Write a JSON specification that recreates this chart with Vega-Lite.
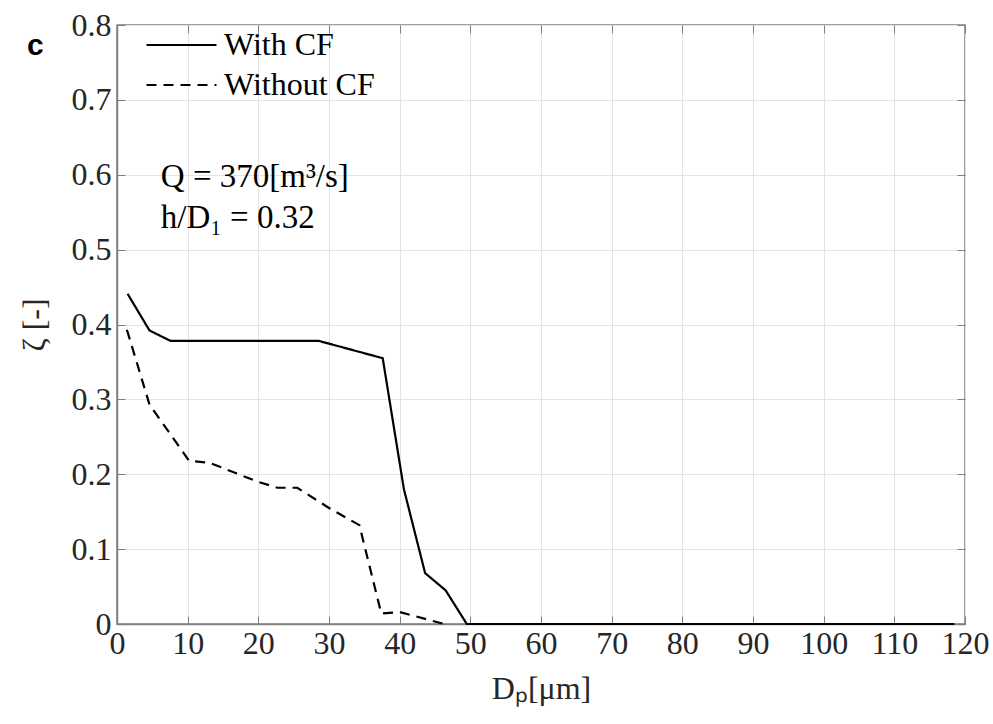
{
  "$schema": "https://vega.github.io/schema/vega-lite/v6.json",
  "width": 848,
  "height": 599,
  "autosize": {"type": "none"},
  "padding": {"left": 117, "top": 25, "right": 28, "bottom": 100},
  "background": "white",
  "title": {"text": "c", "anchor": "start", "frame": "group", "orient": "top", "dx": -90, "dy": 76, "fontSize": 30, "font": "Liberation Sans", "fontWeight": "bold", "color": "black", "baseline": "alphabetic", "offset": 0},
  "config": {
    "view": {"stroke": "#7f7f7f", "strokeWidth": 1.5},
    "axis": {
      "labelFont": "Liberation Serif", "labelFontSize": 32, "labelColor": "#262626",
      "titleFont": "Liberation Serif", "titleFontSize": 32, "titleColor": "#262626", "titleFontWeight": "normal",
      "domainColor": "#7f7f7f", "domainWidth": 1.5, "tickColor": "#7f7f7f", "tickSize": -8, "tickWidth": 1,
      "gridColor": "#e3e3e3", "gridWidth": 1
    }
  },
  "data": {"values": [
    {"D": 1.5, "z": 0.441, "series": "With CF"},
    {"D": 4.6, "z": 0.392, "series": "With CF"},
    {"D": 7.6, "z": 0.378, "series": "With CF"},
    {"D": 28.6, "z": 0.378, "series": "With CF"},
    {"D": 37.6, "z": 0.355, "series": "With CF"},
    {"D": 40.6, "z": 0.18, "series": "With CF"},
    {"D": 43.6, "z": 0.068, "series": "With CF"},
    {"D": 46.5, "z": 0.045, "series": "With CF"},
    {"D": 49.5, "z": 0.0, "series": "With CF"},
    {"D": 118.5, "z": 0.0, "series": "With CF"},
    {"D": 1.4, "z": 0.393, "series": "Without CF"},
    {"D": 4.6, "z": 0.293, "series": "Without CF"},
    {"D": 10.2, "z": 0.218, "series": "Without CF"},
    {"D": 13.2, "z": 0.215, "series": "Without CF"},
    {"D": 19.9, "z": 0.19, "series": "Without CF"},
    {"D": 22.7, "z": 0.182, "series": "Without CF"},
    {"D": 25.5, "z": 0.182, "series": "Without CF"},
    {"D": 30.0, "z": 0.155, "series": "Without CF"},
    {"D": 34.3, "z": 0.132, "series": "Without CF"},
    {"D": 37.4, "z": 0.014, "series": "Without CF"},
    {"D": 40.0, "z": 0.016, "series": "Without CF"},
    {"D": 46.3, "z": 0.0, "series": "Without CF"}
  ]},
  "layer": [
    {
      "mark": {"type": "line", "color": "black", "strokeWidth": 2.2, "clip": false},
      "encoding": {
        "x": {"field": "D", "type": "quantitative", "scale": {"domain": [0, 120], "nice": false},
          "axis": {"values": [0,10,20,30,40,50,60,70,80,90,100,110,120], "title": "Dₚ[μm]", "labelPadding": 12, "titlePadding": 14, "labelFlush": false}},
        "y": {"field": "z", "type": "quantitative", "scale": {"domain": [0, 0.8], "nice": false},
          "axis": {"values": [0,0.1,0.2,0.3,0.4,0.5,0.6,0.7,0.8], "title": "ζ [-]", "labelExpr": "datum.value == 0 ? '0' : format(datum.value, '.1f')", "labelPadding": 14, "titlePadding": 20, "labelFlush": false}},
        "strokeDash": {"field": "series", "type": "nominal",
          "scale": {"domain": ["With CF", "Without CF"], "range": [[1, 0], [10, 7]]},
          "legend": {"title": null, "orient": "none", "legendX": 28, "legendY": 0, "symbolType": "stroke", "symbolSize": 4900, "symbolStrokeWidth": 2.2, "symbolStrokeColor": "black", "labelFont": "Liberation Serif", "labelFontSize": 32, "labelColor": "black", "labelOffset": 6, "clipHeight": 40, "rowPadding": 0, "padding": 0}},
        "order": {"field": "series", "sort": "descending"}
      }
    },
    {
      "mark": {"type": "line", "opacity": 0},
      "encoding": {
        "x": {"field": "D", "type": "quantitative", "scale": {"domain": [0, 120], "nice": false},
          "axis": {"orient": "top", "values": [0,10,20,30,40,50,60,70,80,90,100,110,120], "labels": false, "title": null, "grid": false, "domain": false}},
        "y": {"field": "z", "type": "quantitative", "scale": {"domain": [0, 0.8], "nice": false},
          "axis": {"orient": "right", "values": [0,0.1,0.2,0.3,0.4,0.5,0.6,0.7,0.8], "labels": false, "title": null, "grid": false, "domain": false}},
        "detail": {"field": "series"}
      }
    },
    {
      "data": {"values": [{}]},
      "mark": {"type": "text", "text": ["Q = 370[m³/s]", "h/D₁ = 0.32"], "align": "left", "baseline": "alphabetic", "fontSize": 33, "lineHeight": 41, "font": "Liberation Serif", "color": "black"},
      "encoding": {"x": {"datum": 6.2, "axis": null}, "y": {"datum": 0.584, "axis": null}}
    }
  ],
  "resolve": {"axis": {"x": "independent", "y": "independent"}}
}
